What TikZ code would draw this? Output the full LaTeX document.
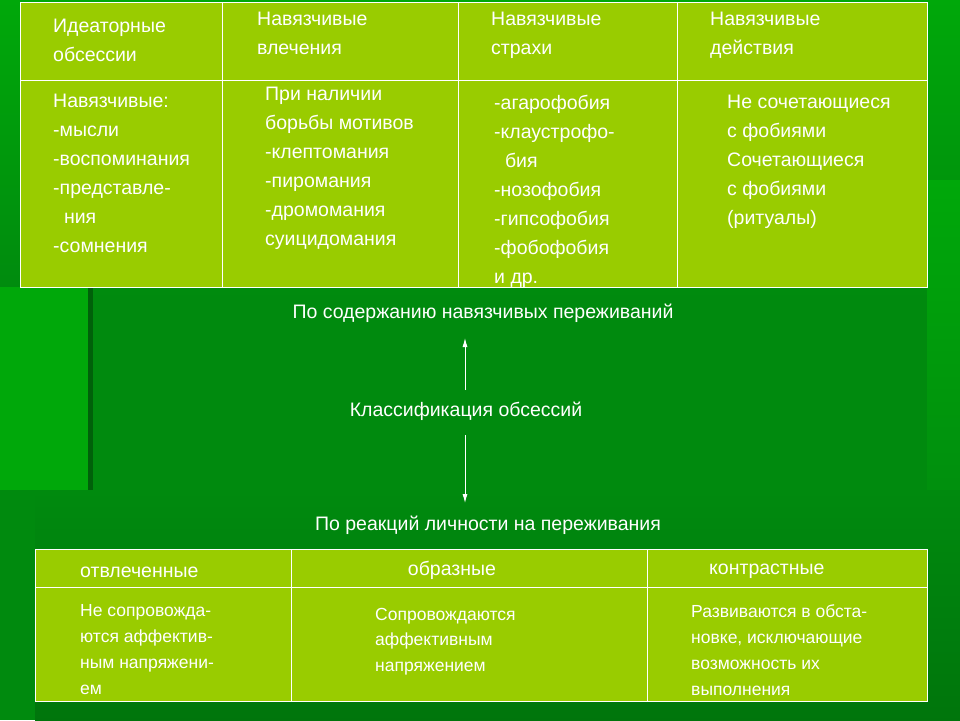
\documentclass[tikz,border=0pt]{standalone}
\usepackage{fontspec}
\usetikzlibrary{arrows.meta}
\setmainfont{Liberation Sans}
\definecolor{bgg}{HTML}{008A0E}
\definecolor{bgl}{HTML}{00A80A}
\definecolor{cellc}{HTML}{99CC00}
\begin{document}
\begin{tikzpicture}[x=1pt,y=-1pt,
  tb/.style={anchor=north west,inner sep=0pt,align=left,text=white,font=\fontsize{19.5}{29}\selectfont},
  sb/.style={anchor=north west,inner sep=0pt,align=left,text=white,font=\fontsize{17.5}{26}\selectfont},
  mid/.style={inner sep=1pt,text=white,font=\fontsize{19.5}{22}\selectfont},
  grid/.style={draw=white,line width=1pt},
  arr/.style={white,line width=0.8pt,-{Latex[length=9pt,width=5pt]}}]
\useasboundingbox (0,0) rectangle (960,720);
\fill[bgg] (0,0) rectangle (960,720);
\shade[top color=bgl,bottom color=bgg] (0,0) rectangle (960,300);
\fill[bgl] (0,287) rectangle (90,490);
\shade[top color=bgl,bottom color=bgg] (927,180) rectangle (960,560);
\fill[black!30!bgg] (88,287) rectangle (93,490);
\shade[top color=bgg,bottom color=black!15!bgg] (35,490) rectangle (960,720);
% top table
\fill[cellc] (20,2) rectangle (927,287);
\draw[grid] (20,2) rectangle (927,287);
\draw[grid] (20,80) -- (927,80);
\foreach \x in {222,458,677} \draw[grid] (\x,2) -- (\x,287);
\node[tb] (h1) at (53,19) {Идеаторные\\обсессии};
\node[tb] (h2) at (257,12) {Навязчивые\\влечения};
\node[tb] (h3) at (491,12) {Навязчивые\\страхи};
\node[tb] (h4) at (710,12) {Навязчивые\\действия};
\node[tb] (b1) at (53,94) {Навязчивые:\\-мысли\\-воспоминания\\-представле-\\\ \ ния\\-сомнения};
\node[tb] (b2) at (265,87) {При наличии\\борьбы мотивов\\-клептомания\\-пиромания\\-дромомания\\суицидомания};
\node[tb] (b3) at (494,95) {-агарофобия\\-клаустрофо-\\\ \ бия\\-нозофобия\\-гипсофобия\\-фобофобия\\и др.};
\node[tb] (b4) at (727,95) {Не сочетающиеся\\с фобиями\\Сочетающиеся\\с фобиями\\(ритуалы)};
% middle
\node[mid] (m1) at (483,313) {По содержанию навязчивых переживаний};
\node[mid] (m2) at (466,411) {Классификация обсессий};
\node[mid] (m3) at (488,525) {По реакций личности на переживания};
\coordinate (a1) at (465,390);
\coordinate (a2) at (465,338);
\coordinate (a3) at (465,435);
\coordinate (a4) at (465,503);
\draw[arr] (a1) -- (a2);
\draw[arr] (a3) -- (a4);
% bottom table
\fill[cellc] (35,549) rectangle (927,701);
\draw[grid] (35,549) rectangle (927,701);
\draw[grid] (35,587) -- (927,587);
\foreach \x in {291,647} \draw[grid] (\x,549) -- (\x,701);
\node[mid,anchor=west] (c1) at (79,572) {отвлеченные};
\node[mid] (c2) at (452,570) {образные};
\node[mid,anchor=west] (c3) at (708,571) {контрастные};
\node[sb] (d1) at (80,604) {Не сопровожда-\\ются аффектив-\\ным напряжени-\\ем};
\node[sb,font=\fontsize{17.5}{25.5}\selectfont] (d2) at (375,608) {Сопровождаются\\аффективным\\напряжением};
\node[sb] (d3) at (691,604) {Развиваются в обста-\\новке, исключающие\\возможность их\\выполнения};
\end{tikzpicture}
\end{document}
